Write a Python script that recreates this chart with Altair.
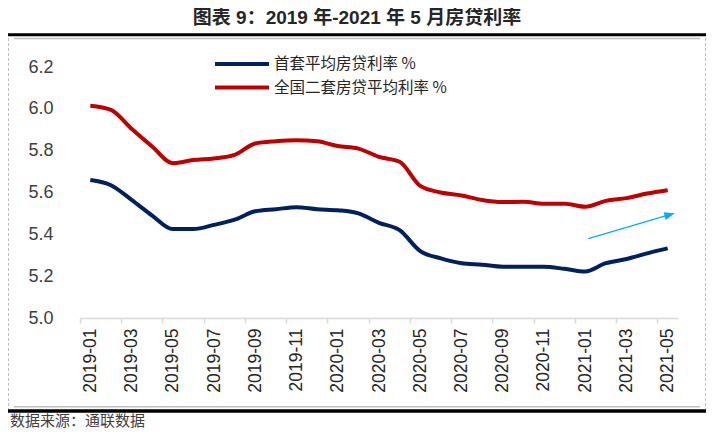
import altair as alt
import pandas as pd

# ---------------- data ----------------
months = [
    "2019-01", "2019-02", "2019-03", "2019-04", "2019-05", "2019-06",
    "2019-07", "2019-08", "2019-09", "2019-10", "2019-11", "2019-12",
    "2020-01", "2020-02", "2020-03", "2020-04", "2020-05", "2020-06",
    "2020-07", "2020-08", "2020-09", "2020-10", "2020-11", "2020-12",
    "2021-01", "2021-02", "2021-03", "2021-04", "2021-05",
]
first_rate = [
    5.66, 5.635, 5.565, 5.49, 5.425, 5.425, 5.445, 5.47, 5.51, 5.52, 5.53, 5.52,
    5.515, 5.50, 5.455, 5.42, 5.32, 5.285, 5.262, 5.255, 5.245, 5.245, 5.245, 5.235,
    5.222, 5.262, 5.282, 5.309, 5.333,
]
second_rate = [
    6.015, 5.995, 5.905, 5.82, 5.74, 5.755, 5.763, 5.78, 5.834, 5.845, 5.85, 5.845,
    5.822, 5.81, 5.77, 5.747, 5.632, 5.60, 5.586, 5.564, 5.554, 5.556, 5.546, 5.546,
    5.532, 5.56, 5.573, 5.595, 5.611,
]
series_names = ["首套平均房贷利率 %", "全国二套房贷平均利率 %"]
series_colors = ["#002060", "#C00000"]
y_ticks = [5.0, 5.2, 5.4, 5.6, 5.8, 6.0, 6.2]
x_label_idx = list(range(0, len(months), 2))
arrow_x = [24.15, 28.10]
arrow_y = [5.38, 5.494]

title_text = "图表 9：2019 年-2021 年 5 月房贷利率"
source_text = "数据来源：通联数据"

# ---------------- layout ----------------
W, H = 598, 251
band = W / len(months)
PAD_L, PAD_T = 72, 59
PAD_R = 698 - PAD_L - W
PAD_B = 424 - PAD_T - H

rows = []
for i, m in enumerate(months):
    rows.append({"idx": i, "month": m, "series": series_names[0], "rate": first_rate[i]})
    rows.append({"idx": i, "month": m, "series": series_names[1], "rate": second_rate[i]})
df = pd.DataFrame(rows)

xscale = alt.Scale(domain=[-0.5, len(months) - 0.5], nice=False, zero=False)
yscale = alt.Scale(domain=[5.0, 6.2], nice=False, zero=False)

label_expr = "[" + ",".join(f"'{m}'" for m in months) + "][datum.value]"

x_axis = alt.Axis(
    values=x_label_idx, labelExpr=label_expr, labelAngle=270,
    tickOffset=-band / 2, labelOffset=band / 2,
    grid=False, domainColor="#D9D9D9", domainWidth=1.5,
    tickColor="#D9D9D9", tickWidth=1.5, tickSize=5, labelPadding=5,
    labelFont="Liberation Sans Narrow, Arial Narrow, Liberation Sans, sans-serif",
    labelFontSize=17.5, labelColor="#262626", labelOverlap=False, labelFlush=False,
    title=None,
)
y_axis = alt.Axis(
    values=y_ticks, format=".1f", domain=False, ticks=False, grid=False,
    labelPadding=27, labelFont="Liberation Sans, Arial, sans-serif",
    labelFontSize=18, labelColor="#404040", title=None,
)

# legend symbol: a wide horizontal stroke in a compact row
lines = alt.Chart(df).mark_line(strokeWidth=4, interpolate="monotone").encode(
    x=alt.X("idx:Q", scale=xscale, axis=x_axis),
    y=alt.Y("rate:Q", scale=yscale, axis=y_axis),
    color=alt.Color(
        "series:N",
        scale=alt.Scale(domain=series_names, range=series_colors),
        legend=alt.Legend(
            orient="none", legendX=150, legendY=-15, direction="vertical",
            title=None, symbolType="M-2.7,0H2.7", symbolSize=400, symbolStrokeWidth=4,
            labelFont="Noto Sans CJK SC", labelFontSize=15.5, labelColor="#262626",
            rowPadding=2.5, labelOffset=20, labelLimit=0,
        ),
    ),
    detail="series:N",
)

arrow_df = pd.DataFrame({"x": arrow_x, "y": arrow_y})
arrow_line = alt.Chart(arrow_df).mark_line(color="#00B0F0", strokeWidth=1.3).encode(
    x=alt.X("x:Q", scale=xscale), y=alt.Y("y:Q", scale=yscale)
)
arrow_head = alt.Chart(arrow_df.tail(1)).mark_point(
    shape="M1,0L-1,-0.75L-1,0.75Z", filled=True, size=110, angle=343.8,
    color="#00B0F0", opacity=1, strokeWidth=0,
).encode(x=alt.X("x:Q", scale=xscale), y=alt.Y("y:Q", scale=yscale))

one = pd.DataFrame({"k": [0]})


def hrule(x1, x2, y, color, width):
    return alt.Chart(one).mark_rule(color=color, strokeWidth=width).encode(
        x=alt.value(x1), x2=alt.value(x2), y=alt.value(y)
    )


def vrule(x, y1, y2):
    return alt.Chart(one).mark_rule(color="#BFBFBF", strokeWidth=1, strokeDash=[3, 2]).encode(
        x=alt.value(x), y=alt.value(y1), y2=alt.value(y2)
    )


decor = [
    hrule(-72, 626, -32.3, "#000000", 3),
    hrule(-66, 620, -28.5, "#BFBFBF", 1.5),
    hrule(-66, 620, 339.7, "#BFBFBF", 1.5),
    hrule(-72, 626, 344, "#000000", 3.5),
    vrule(-71.5, -29, 342),
    vrule(625.5, -29, 342),
]

title = alt.Chart(one).mark_text(
    text=title_text, font="Liberation Sans, Noto Sans CJK SC", fontSize=19,
    fontWeight="bold", color="#262626", align="center", baseline="middle",
).encode(x=alt.value(357 - 80), y=alt.value(18 - 67))

source = alt.Chart(one).mark_text(
    text=source_text, font="Noto Sans CJK SC", fontSize=15,
    color="#404040", align="left", baseline="middle",
).encode(x=alt.value(-70), y=alt.value(421 - 67))

chart = alt.layer(*decor, lines, arrow_line, arrow_head, title, source).properties(
    width=W, height=H,
    autosize=alt.AutoSizeParams(type="none"),
    padding={"left": PAD_L, "top": PAD_T, "right": PAD_R, "bottom": PAD_B},
    background="white",
).configure_view(stroke=None)

chart.save("out.html", embed_options={"renderer": "svg", "actions": False})
